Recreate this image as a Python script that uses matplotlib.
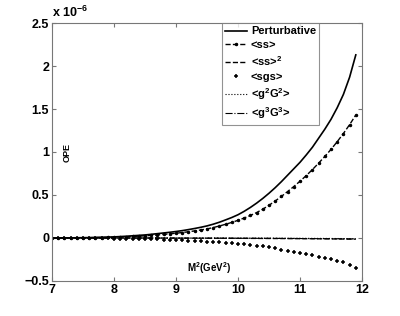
import matplotlib
matplotlib.use('Agg')
import matplotlib.pyplot as plt

plt.rcParams['font.family'] = ['Liberation Sans', 'DejaVu Sans']
plt.rcParams['font.weight'] = 'bold'
plt.rcParams['mathtext.fontset'] = 'custom'
plt.rcParams['mathtext.rm'] = 'Liberation Sans:bold'
plt.rcParams['mathtext.it'] = 'Liberation Sans:bold'
plt.rcParams['mathtext.bf'] = 'Liberation Sans:bold'
plt.rcParams['mathtext.default'] = 'rm'

# Borel mass M^2 in GeV^2
m2 = [7.0, 7.1, 7.2, 7.3, 7.4, 7.5, 7.6, 7.7, 7.8, 7.9,
      8.0, 8.1, 8.2, 8.3, 8.4, 8.5, 8.6, 8.7, 8.8, 8.9,
      9.0, 9.1, 9.2, 9.3, 9.4, 9.5, 9.6, 9.7, 9.8, 9.9,
      10.0, 10.1, 10.2, 10.3, 10.4, 10.5, 10.6, 10.7, 10.8, 10.9,
      11.0, 11.1, 11.2, 11.3, 11.4, 11.5, 11.6, 11.7, 11.8, 11.9]

# contributions, units of 1e-6
perturbative = [0.000, 0.000, 0.001, 0.001, 0.002, 0.003, 0.004, 0.006, 0.008, 0.010,
                0.012, 0.016, 0.020, 0.025, 0.030, 0.035, 0.042, 0.050, 0.058, 0.066,
                0.075, 0.085, 0.097, 0.110, 0.124, 0.140, 0.160, 0.183, 0.210, 0.238,
                0.270, 0.310, 0.355, 0.405, 0.460, 0.520, 0.585, 0.655, 0.730, 0.805,
                0.880, 0.965, 1.055, 1.160, 1.265, 1.380, 1.515, 1.670, 1.870, 2.130]
ss = [0.000, 0.000, 0.000, 0.001, 0.001, 0.002, 0.003, 0.004, 0.005, 0.006,
      0.008, 0.011, 0.014, 0.017, 0.021, 0.025, 0.030, 0.035, 0.041, 0.048,
      0.055, 0.063, 0.072, 0.082, 0.093, 0.105, 0.121, 0.139, 0.159, 0.181,
      0.205, 0.232, 0.262, 0.295, 0.335, 0.380, 0.430, 0.483, 0.540, 0.598,
      0.660, 0.725, 0.795, 0.870, 0.948, 1.030, 1.120, 1.215, 1.318, 1.430]
sgs = [0.000, -0.001, -0.001, -0.002, -0.002, -0.003, -0.003, -0.004, -0.005, -0.006,
       -0.007, -0.008, -0.009, -0.011, -0.012, -0.014, -0.016, -0.018, -0.020, -0.022,
       -0.025, -0.028, -0.031, -0.034, -0.038, -0.042, -0.046, -0.050, -0.055, -0.060,
       -0.065, -0.071, -0.078, -0.088, -0.098, -0.110, -0.122, -0.135, -0.148, -0.162,
       -0.176, -0.190, -0.204, -0.218, -0.233, -0.248, -0.265, -0.285, -0.312, -0.345]

m2_coarse = [7.0, 7.5, 8.0, 8.5, 9.0, 9.5, 10.0, 10.5, 11.0, 11.5, 11.9]
ss2 = [0.000, 0.000, -0.001, -0.001, -0.002, -0.003, -0.004, -0.006, -0.008, -0.011, -0.014]
g2G2 = [0.000, 0.000, 0.000, 0.000, -0.001, -0.001, -0.002, -0.003, -0.004, -0.006, -0.008]
g3G3 = [0.000, 0.000, -0.001, -0.001, -0.002, -0.003, -0.004, -0.005, -0.007, -0.009, -0.012]

fig = plt.figure(figsize=(4.0, 3.16), dpi=100)
ax = fig.add_axes([0.13, 0.111, 0.775, 0.816])

ax.plot(m2, perturbative, 'k-', lw=1.2, label='Perturbative')
ax.plot(m2, ss, color='k', ls='--', lw=1.0, marker='.', ms=3, label='<ss>')
ax.plot(m2_coarse, ss2, color='k', ls='--', lw=1.0, label='<ss>$^2$')
ax.plot(m2, sgs, color='k', ls='none', marker='+', ms=3.2, mew=1.1, label='<sgs>')
ax.plot(m2_coarse, g2G2, color='k', ls=':', lw=0.8, label='<g$^2$G$^2$>')
ax.plot(m2_coarse, g3G3, color='k', ls='-.', lw=0.8, label='<g$^3$G$^3$>')

ax.set_xlim(7, 12)
ax.set_ylim(-0.5, 2.5)
ax.set_xticks([7, 8, 9, 10, 11, 12])
ax.set_yticks([-0.5, 0, 0.5, 1, 1.5, 2, 2.5])
ax.set_yticklabels(['\u22120.5', '0', '0.5', '1', '1.5', '2', '2.5'])
ax.tick_params(direction='in', top=True, right=True, labelsize=9, length=3,
               color='#777777', pad=2)
for sp in ax.spines.values():
    sp.set_color('#777777')

ax.text(0.0, 1.012, 'x 10$^{-6}$', transform=ax.transAxes, fontsize=9,
        fontweight='bold', ha='left', va='bottom')
ax.text(7.24, 0.99, 'OPE', rotation=90, fontsize=6.5, fontweight='bold',
        ha='center', va='center')
ax.text(9.53, -0.35, 'M$^2$(GeV$^2$)', fontsize=7, fontweight='bold',
        ha='center', va='center')

leg = ax.legend(loc='upper left', bbox_to_anchor=(0.548, 1.0), fontsize=8,
                frameon=True, fancybox=False, edgecolor='#777777',
                handlelength=2.0, handletextpad=0.3, labelspacing=0.35,
                borderpad=0.3, borderaxespad=0.0)
leg.get_frame().set_linewidth(0.8)
for t in leg.get_texts():
    t.set_fontweight('bold')

fig.savefig('out.png', dpi=100)
